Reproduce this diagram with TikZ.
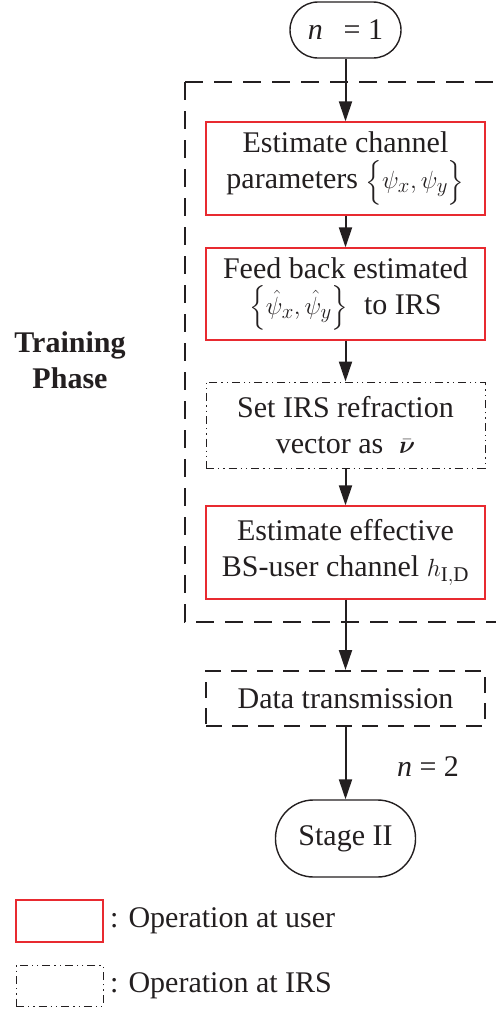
\documentclass[tikz,border=0pt]{standalone}
\usepackage{amsmath}
\usepackage{fontspec}
\setmainfont{Liberation Serif}
\usetikzlibrary{arrows.meta}
\definecolor{userred}{RGB}{232,42,48}
\definecolor{ink}{RGB}{35,31,32}
\begin{document}
\begin{tikzpicture}[x=1pt,y=-1pt,
  every node/.style={font=\fontsize{30}{36}\selectfont, inner sep=0pt, text=ink},
  userbox/.style={draw=userred, line width=1.3pt, minimum width=279pt, align=center},
  irsline/.style={line width=1pt, dash pattern=on 8pt off 4pt on 1.3pt off 4pt on 1.3pt off 4pt},
  irsbox/.style={draw=ink, irsline, minimum width=279pt, align=center},
  bigdash/.style={draw=ink, line width=2pt, dash pattern=on 18pt off 11pt},
  databox/.style={draw=ink, line width=2pt, dash pattern=on 16pt off 10pt, minimum width=279pt},
  term/.style={draw=ink, line width=1.4pt},
  flow/.style={draw=ink, line width=2pt, -{Triangle[length=20pt,width=13pt]}}]
\useasboundingbox (0,0) rectangle (496,1010);
\clip (0,0) rectangle (496,1010);

% outer training-phase box
\draw[bigdash] (185,82) -- (496,82);
\draw[bigdash] (185,82) -- (185,622) -- (496,622);
\node[font=\fontsize{30}{36}\selectfont\bfseries, align=center] (train) at (70,360) {Training\\Phase};

% start terminal
\node[term, minimum width=111pt, minimum height=56pt, rounded corners=28pt] (start) at (345.5,30) {\textit{n}\;\, = 1};

% process boxes
\node[userbox, minimum height=93pt] (b1) at (345.5,168.5) {Estimate channel\\parameters $\Bigl\{\psi_x,\psi_y\Bigr\}$};
\node[userbox, minimum height=92pt] (b2) at (345.5,294) {Feed back estimated\\$\Bigl\{\hat{\psi}_x,\hat{\psi}_y\Bigr\}$\; to IRS};
\node[irsbox, minimum height=86pt] (b3) at (345.5,425) {Set IRS refraction\\vector as\; $\bar{\boldsymbol{\nu}}$};
\node[userbox, minimum height=93pt] (b4) at (345.5,552.5) {Estimate effective\\BS-user channel $h_{\mathrm{I,D}}$};

\node[databox, minimum height=55pt] (data) at (345.5,698.5) {Data transmission};
\node[term, minimum width=140pt, minimum height=77pt, rounded corners=38pt] (stage) at (345.5,838.5) {Stage II};
\node (n2) at (428,767) {\textit{n} = 2};

% connectors
\draw[flow] (start) -- (b1);
\draw[flow] (b1) -- (b2);
\draw[flow] (b2) -- (b3);
\draw[flow] (b3) -- (b4);
\draw[flow] (b4) -- (data);
\draw[flow] (data) -- (stage);

% legend
\node[draw=userred, line width=1.3pt, minimum width=87pt, minimum height=42pt] (leguser) at (59.5,921) {};
\node[anchor=west] (legusertext) at (110,921) {: Operation at user};
\node[draw=ink, irsline, minimum width=87pt, minimum height=41pt] (legirs) at (59.5,985.5) {};
\node[anchor=west] (legirstext) at (110,986) {: Operation at IRS};
\end{tikzpicture}
\end{document}
